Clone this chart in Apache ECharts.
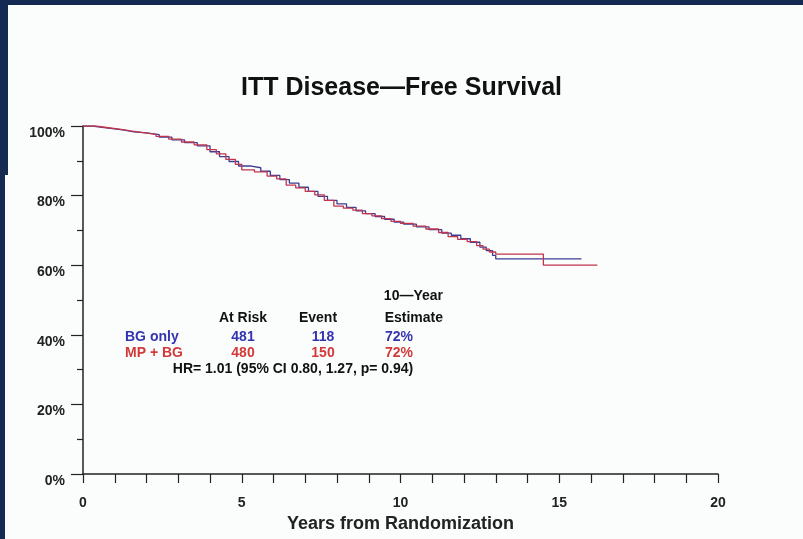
<!DOCTYPE html>
<html>
<head>
<meta charset="utf-8">
<script src="https://cdn.jsdelivr.net/npm/echarts@6/dist/echarts.min.js"></script>
<style>
  html, body { margin: 0; padding: 0; background: #152a52; }
  #chart { width: 803px; height: 539px; }
</style>
</head>
<body>
<div id="chart"></div>
<script>
// Kaplan-Meier disease-free survival, step points (years, % event-free)
const bgOnlyYears = [0, 0.3, 0.6, 1.0, 1.3, 1.6, 2.0, 2.4, 2.8, 3.2, 3.6, 4.0, 4.3, 4.6, 4.9, 5.3, 5.6, 5.9, 6.2, 6.5, 6.8, 7.1, 7.4, 7.7, 8.0, 8.3, 8.6, 8.9, 9.2, 9.5, 9.8, 10.1, 10.5, 10.9, 11.3, 11.6, 11.9, 12.2, 12.5, 12.7, 12.9, 13.0, 15.7];
const bgOnlySurv  = [100, 99.6, 99.2, 98.8, 98.3, 98.0, 97.5, 96.8, 96.0, 95.2, 94.3, 92.6, 91.2, 89.8, 88.5, 88.0, 87.0, 85.8, 84.6, 83.6, 82.4, 81.2, 79.8, 78.6, 77.6, 76.6, 75.6, 74.8, 74.0, 73.2, 72.4, 71.8, 71.0, 70.2, 69.2, 68.6, 67.6, 66.6, 65.2, 64.2, 62.8, 61.8, 61.8];

const mpBgYears = [0, 0.4, 0.8, 1.2, 1.5, 1.9, 2.3, 2.7, 3.1, 3.5, 3.9, 4.2, 4.5, 4.8, 5.0, 5.4, 5.8, 6.1, 6.4, 6.7, 7.0, 7.3, 7.6, 7.9, 8.2, 8.5, 8.8, 9.1, 9.4, 9.7, 10.0, 10.4, 10.8, 11.2, 11.5, 11.8, 12.1, 12.4, 12.6, 12.8, 13.0, 14.5, 16.2];
const mpBgSurv  = [100, 99.5, 99.0, 98.6, 98.1, 97.6, 97.0, 96.2, 95.4, 94.6, 93.2, 92.0, 90.4, 89.0, 87.4, 86.8, 85.6, 84.8, 83.0, 82.2, 81.2, 80.2, 78.6, 77.0, 76.4, 75.8, 74.8, 74.2, 73.4, 72.6, 72.0, 71.2, 70.4, 69.4, 68.2, 67.4, 66.8, 65.6, 64.6, 63.8, 63.2, 60.0, 60.0];

// Axis ticks
const xTicks = [0, 5, 10, 15, 20];
const yTicks = [0, 20, 40, 60, 80, 100];

// Summary table
const groupNames = ['BG only', 'MP + BG'];
const atRisk = ['481', '480'];
const events = ['118', '150'];
const estimates = ['72%', '72%'];
const hrText = 'HR= 1.01 (95% CI 0.80, 1.27, p= 0.94)';

const BLUE_LINE = '#3d3d92';
const RED_LINE = '#c2344c';
const BLUE_TEXT = '#3434b0';
const RED_TEXT = '#d23a3a';

const chart = echarts.init(document.getElementById('chart'));

function pairs(xs, ys) { return xs.map((x, i) => [x, ys[i]]); }

function tableText(text, x, y, fill, align) {
  return {
    type: 'text', z: 10,
    style: {
      text: text, x: x, y: y,
      font: 'bold 14px "Liberation Sans", Arial, sans-serif',
      fill: fill, textAlign: align || 'center', textVerticalAlign: 'middle'
    }
  };
}

const rowColors = [BLUE_TEXT, RED_TEXT];
const graphics = [
  // page panel
  { type: 'rect', z: -10, shape: { x: 8, y: 5, width: 795, height: 172 }, style: { fill: '#fbfdfd' } },
  { type: 'rect', z: -10, shape: { x: 5, y: 175, width: 798, height: 364 }, style: { fill: '#fbfdfd' } },
  tableText('10\u2014Year', 443, 296, '#111', 'right'),
  tableText('At Risk', 243, 318, '#111'),
  tableText('Event', 318, 318, '#111'),
  tableText('Estimate', 443, 318, '#111', 'right'),
  tableText(hrText, 293, 369, '#111')
];
groupNames.forEach((g, i) => {
  const y = 337 + i * 16;
  graphics.push(tableText(g, 125, y, rowColors[i], 'left'));
  graphics.push(tableText(atRisk[i], 243, y, rowColors[i]));
  graphics.push(tableText(events[i], 323, y, rowColors[i]));
  graphics.push(tableText(estimates[i], 399, y, rowColors[i]));
});

const axisFont = { fontFamily: '"Liberation Sans", Arial, sans-serif', fontWeight: 'bold', color: '#222' };

chart.setOption({
  backgroundColor: '#152a52',
  animation: false,
  title: {
    text: 'ITT Disease\u2014Free Survival',
    left: 'center', top: 71,
    textStyle: { fontFamily: '"Liberation Sans", Arial, sans-serif', fontWeight: 'bold', fontSize: 25, color: '#111' }
  },
  grid: { left: 83, right: 85, top: 126, bottom: 65 },
  xAxis: {
    type: 'value', min: xTicks[0], max: xTicks[xTicks.length - 1], interval: 5,
    name: 'Years from Randomization', nameLocation: 'middle', nameGap: 40,
    nameTextStyle: Object.assign({ fontSize: 18 }, axisFont),
    axisLine: { show: true, lineStyle: { color: '#222', width: 1.5 } },
    axisTick: { show: true, inside: false, length: 9, lineStyle: { color: '#222', width: 1.2 } },
    minorTick: { show: true, splitNumber: 5, length: 9, lineStyle: { color: '#222', width: 1.2 } },
    splitLine: { show: false },
    axisLabel: Object.assign({ fontSize: 14, margin: 22 }, axisFont)
  },
  yAxis: {
    type: 'value', min: yTicks[0], max: yTicks[yTicks.length - 1], interval: 20,
    axisLine: { show: true, lineStyle: { color: '#222', width: 1.5 } },
    axisTick: { show: true, inside: false, length: 12, lineStyle: { color: '#222', width: 1.2 } },
    minorTick: { show: true, splitNumber: 2, length: 6, lineStyle: { color: '#222', width: 1.2 } },
    splitLine: { show: false },
    axisLabel: Object.assign({ fontSize: 14, margin: 18, formatter: '{value}%', verticalAlign: 'top' }, axisFont)
  },
  series: [
    {
      name: 'BG only', type: 'line', step: 'end', symbol: 'none',
      data: pairs(bgOnlyYears, bgOnlySurv),
      lineStyle: { color: BLUE_LINE, width: 1.3 }
    },
    {
      name: 'MP + BG', type: 'line', step: 'end', symbol: 'none',
      data: pairs(mpBgYears, mpBgSurv),
      lineStyle: { color: RED_LINE, width: 1.3 }
    }
  ],
  graphic: graphics
});
</script>
</body>
</html>
